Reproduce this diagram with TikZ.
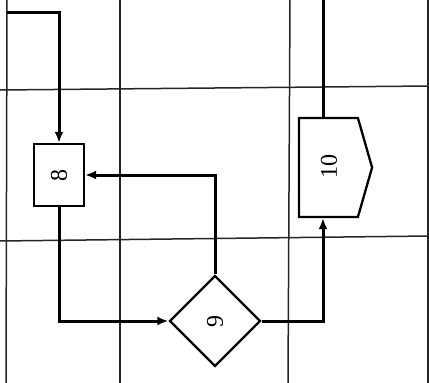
\documentclass[tikz,border=0pt]{standalone}
\usepackage{graphicx}
\usepackage{fontspec}
\setmainfont{Liberation Serif}
\usetikzlibrary{arrows.meta,shapes.geometric,shapes.symbols,calc}
\begin{document}
\begin{tikzpicture}[x=1pt,y=-1pt,
  gridline/.style={line width=1.5pt,draw=black!85},
  boxline/.style={draw=black,line width=2.3pt,fill=white,inner sep=0pt},
  flow/.style={line width=3pt,-{Latex[length=11pt,width=9pt]}},
  plain/.style={line width=3pt},
  lbl/.style={font=\fontsize{24}{28}\selectfont,inner sep=0pt}]
\useasboundingbox (0,0) rectangle (429,383);
% grid
\draw[gridline] (7,0) -- (6,383);
\draw[gridline] (120,0) -- (120,383);
\draw[gridline] (290,0) -- (288,383);
\draw[gridline] (428,0) -- (428,383);
\draw[gridline] (0,90) -- (429,86);
\draw[gridline] (0,241) -- (429,236);
% nodes
\node[boxline,rectangle,minimum width=50pt,minimum height=62pt] (b8) at (59,175) {};
\node[lbl] (l8) at (b8.center) {\rotatebox{90}{8}};
\node[boxline,diamond,aspect=1,minimum width=91pt,minimum height=91pt] (d9) at (215,321) {};
\node[lbl] (l9) at (d9.center) {\rotatebox{90}{9}};
\node[boxline,signal,signal to=east,signal from=nowhere,signal pointer angle=148,
      minimum width=73pt,minimum height=99pt] (b10) at (328.5,167.5) {};
\node[lbl] (l10) at (329,166) {\rotatebox{90}{10}};
% connectors
\coordinate (s) at (7,12);
\coordinate (c10) at (323,0);
\draw[flow] (s) -| (b8.north);
\draw[flow] (b8.south) |- (d9.west);
\draw[flow] (d9.north) |- (b8.east);
\draw[flow] (d9.east) -| (b10.south -| c10);
\draw[plain] (b10.north -| c10) -- (c10);
\end{tikzpicture}
\end{document}
